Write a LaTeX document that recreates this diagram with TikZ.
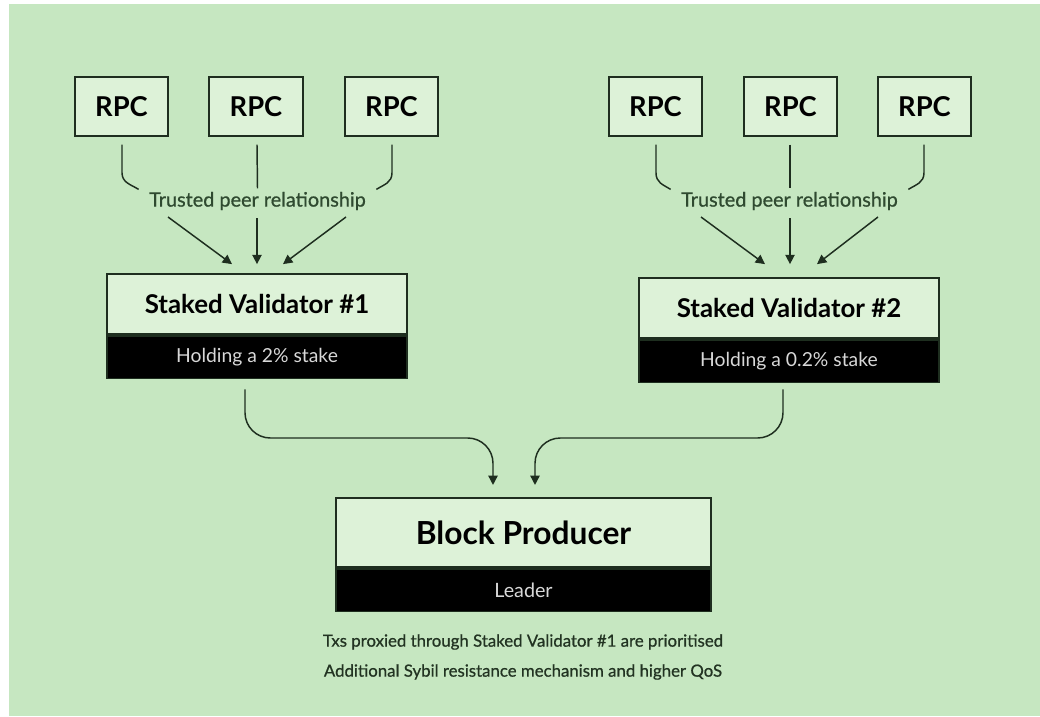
\documentclass[tikz,border=0pt]{standalone}
\usepackage{fontspec}
\setmainfont{Lato}
\newfontfamily\latomed{Lato}[FakeBold=0.7]
\usetikzlibrary{arrows.meta,calc}

\definecolor{paper}{HTML}{C6E7C1}
\definecolor{boxfill}{HTML}{DDF2D8}
\definecolor{ink}{HTML}{1E2E1F}
\definecolor{labelink}{HTML}{2F4A30}
\definecolor{notes}{HTML}{223322}
\definecolor{bartext}{HTML}{D8D8D8}

\tikzset{
  rpcbox/.style={draw=ink, line width=1.3pt, fill=boxfill, minimum width=70pt, minimum height=44pt,
    inner sep=0pt, font=\bfseries\fontsize{20.5}{22}\selectfont, text=black},
  titlebox/.style={draw=ink, line width=1.3pt, fill=boxfill, minimum width=225pt, minimum height=45pt,
    inner sep=0pt, font=\bfseries\fontsize{19.4}{22}\selectfont, text=black},
  subbar/.style={draw=ink, line width=1.3pt, fill=black, minimum width=225pt, minimum height=32pt,
    inner sep=0pt, font=\fontsize{14.5}{16}\selectfont, text=bartext},
  feed/.style={draw=ink, line width=1.1pt},
  feedarrow/.style={draw=ink, line width=1.1pt, -{Triangle[length=7pt,width=7pt]}},
  peerlabel/.style={font=\latomed\fontsize{14.9}{16}\selectfont, text=labelink, inner sep=1pt},
  note/.style={font=\latomed\fontsize{12.6}{14}\selectfont, text=notes, inner sep=0pt}
}

\begin{document}
\begin{tikzpicture}[x=0.75pt,y=-0.75pt]
  % canvas
  \fill[white] (0,0) rectangle (1040,717);
  \fill[paper] (9,4) rectangle (1040,716);
  \useasboundingbox (0,0) rectangle (1040,717);

  % ---------- left cluster ----------
  \node[rpcbox] (la) at (121.5,106.5) {RPC};
  \node[rpcbox] (lb) at (256,106.5) {RPC};
  \node[rpcbox] (lc) at (391.5,106.5) {RPC};
  \node[peerlabel] (lp) at (257.5,201) {Trusted peer relationship};

  \node[titlebox] (v1) at (257,304) {Staked Validator \#1};
  \node[subbar, anchor=north] (v1s) at (v1.south) {Holding a 2\% stake};

  \draw[feed] ($(la.south)+(0.5,8)$) -- ++(0,28) .. controls +(0,10) and +(-8,-5) .. ($(lp.north west)+(-9,-1)$);
  \draw[feed] ($(lb.south)+(1,8)$) -- ($(lp.north)+(0,-2)$);
  \draw[feed] ($(lc.south)+(0.5,8)$) -- ++(0,28) .. controls +(0,10) and +(8,-5) .. ($(lp.north east)+(9,-1)$);

  \coordinate (l1) at (168,217);
  \coordinate (l2) at (257,218);
  \coordinate (l3) at (346,217);
  \draw[feedarrow] (l1) -- ($(v1.north)+(-25,-9)$);
  \draw[feedarrow] (l2) -- ($(v1.north)+(0,-9)$);
  \draw[feedarrow] (l3) -- ($(v1.north)+(26,-9)$);

  % ---------- right cluster ----------
  \node[rpcbox] (ra) at (655.5,106.5) {RPC};
  \node[rpcbox] (rb) at (790.5,106.5) {RPC};
  \node[rpcbox] (rc) at (924.5,106.5) {RPC};
  \node[peerlabel] (rp) at (789.5,201) {Trusted peer relationship};

  \node[titlebox] (v2) at (789,308) {Staked Validator \#2};
  \node[subbar, anchor=north] (v2s) at (v2.south) {Holding a 0.2\% stake};

  \draw[feed] ($(ra.south)+(0.5,8)$) -- ++(0,28) .. controls +(0,10) and +(-8,-5) .. ($(rp.north west)+(-9,-1)$);
  \draw[feed] ($(rb.south)+(-0.5,8)$) -- ($(rp.north)+(0.5,-2)$);
  \draw[feed] ($(rc.south)+(-0.5,8)$) -- ++(0,28) .. controls +(0,10) and +(8,-5) .. ($(rp.north east)+(9,-1)$);

  \coordinate (r1) at (701,217);
  \coordinate (r2) at (790,218);
  \coordinate (r3) at (878,217);
  \draw[feedarrow] (r1) -- ($(v2.north)+(-24,-13)$);
  \draw[feedarrow] (r2) -- ($(v2.north)+(1,-13)$);
  \draw[feedarrow] (r3) -- ($(v2.north)+(28,-13)$);

  % ---------- block producer ----------
  \node[titlebox, minimum width=281pt, minimum height=52pt, font=\bfseries\fontsize{23.8}{26}\selectfont] (bp) at (523.5,532.5) {Block Producer};
  \node[subbar, minimum width=281pt, anchor=north, font=\fontsize{14.8}{16}\selectfont] (bps) at (bp.south) {Leader};

  \draw[feedarrow, rounded corners=19pt] ($(v1s.south)+(-12,10)$) |- (493,438) -- ($(bp.north)+(-30.5,-12)$);
  \draw[feedarrow, rounded corners=19pt] ($(v2s.south)+(-6,6)$) |- (535,438) -- ($(bp.north)+(11.5,-12)$);

  % ---------- notes ----------
  \node[note] (n1) at (523,642) {Txs proxied through Staked Validator \#1 are prioritised};
  \node[note] (n2) at (523,672) {Additional Sybil resistance mechanism and higher QoS};
\end{tikzpicture}
\end{document}
